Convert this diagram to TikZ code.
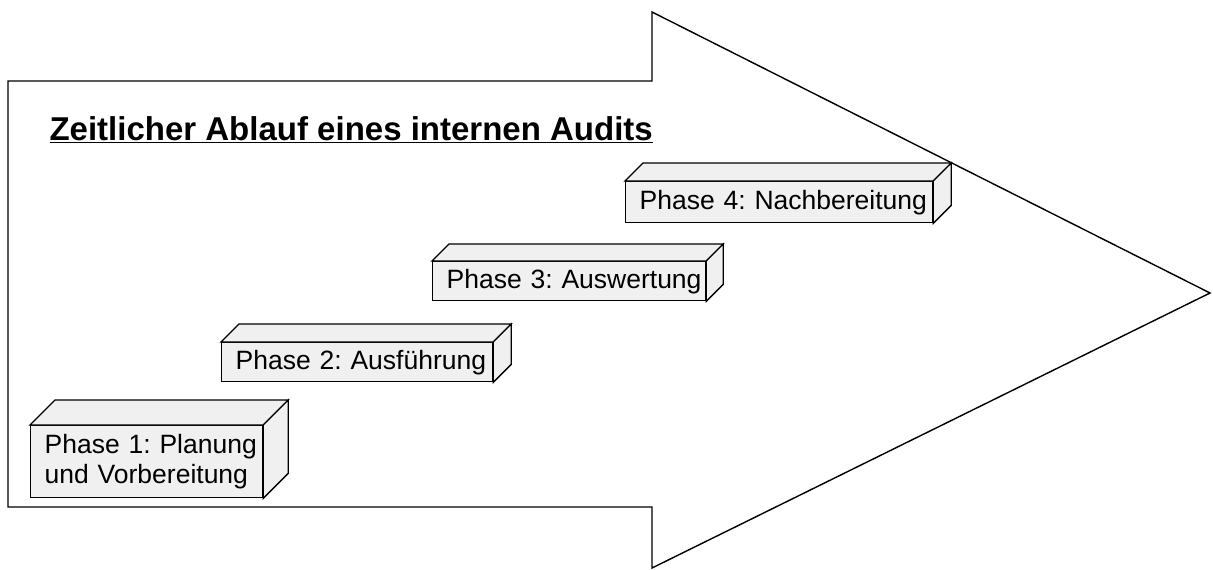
\documentclass[tikz,border=0pt]{standalone}
\usepackage{fontspec}
\setmainfont{Liberation Sans}
\usetikzlibrary{positioning}

\definecolor{quadergrau}{HTML}{F0F0F0}

\begin{document}
\frenchspacing
\begin{tikzpicture}[%
    x=1pt, y=-1pt,              % pixel-like units, y grows downwards
    line join=miter,
    ]
% -------------------------------------------------
% Box styles
\tikzset{
  pfeil/.style={draw, line width=1.4pt},
  quader/.style={draw, fill=quadergrau, line width=1.3pt, anchor=north west,
    align=left, inner xsep=14pt, inner ysep=0pt, font=\fontsize{26.5}{30}\selectfont},
  flaeche/.style={draw, fill=quadergrau, line width=1.3pt},
  titel/.style={anchor=west, font=\fontsize{33}{36}\selectfont\bfseries}
}
\useasboundingbox (0,0) rectangle (1213,570);
% -------------------------------------------------
% The big arrow in the background
\draw [pfeil] (8,81) -- (652,81) -- (652,12) -- (1210,293)
  -- (652,568) -- (652,507) -- (8,507) -- cycle;

\node [titel] (titel) at (46,130) {\underline{Zeitlicher Ablauf eines internen Audits}};

% -------------------------------------------------
% The four phases, front faces first
\node [quader, minimum width=232pt, minimum height=72pt, text width=204pt]
  (p1) at (30,425) {\mbox{Phase 1: Planung}\\\mbox{und Vorbereitung}};
\node [quader, minimum width=271pt, minimum height=39pt, text width=243pt]
  (p2) at (221,342) {\mbox{Phase 2: Ausführung}};
\node [quader, minimum width=273pt, minimum height=39pt, text width=245pt]
  (p3) at (432,261) {\mbox{Phase 3: Auswertung}};
\node [quader, minimum width=307pt, minimum height=41pt, text width=279pt]
  (p4) at (625,181) {\mbox{Phase 4: Nachbereitung}};

% top and side faces
\foreach \n/\d in {p1/25, p2/18, p3/17, p4/18} {
  \filldraw [flaeche] (\n.north west) -- ++(\d,-\d) -- ([shift={(\d,-\d)}]\n.north east)
    -- (\n.north east) -- cycle;
  \filldraw [flaeche] (\n.north east) -- ++(\d,-\d) -- ([shift={(\d,-\d)}]\n.south east)
    -- (\n.south east) -- cycle;
}
% -------------------------------------------------
\end{tikzpicture}
\end{document}
